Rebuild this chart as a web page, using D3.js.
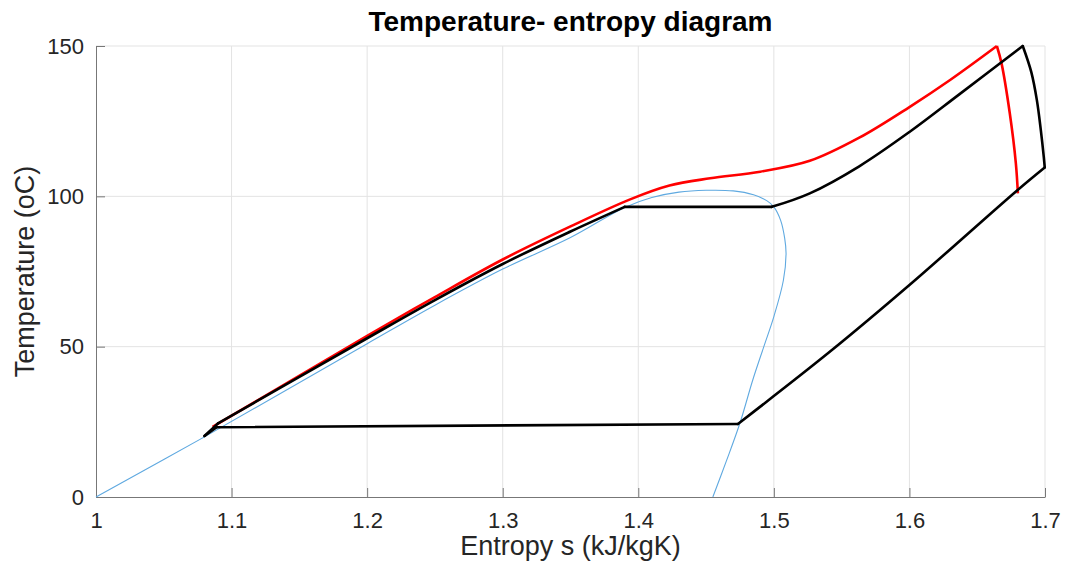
<!DOCTYPE html>
<html>
<head>
  <meta charset="utf-8">
  <title>Temperature- entropy diagram</title>
  <script src="https://d3js.org/d3.v7.min.js"></script>
  <style>
    body { margin: 0; background: #fff; }
    text { font-family: "Liberation Sans", Arial, Helvetica, sans-serif; fill: #262626; }
  </style>
</head>
<body>
<svg width="1071" height="577" id="chart"></svg>
<script>
// tick values
var xTicks = [1, 1.1, 1.2, 1.3, 1.4, 1.5, 1.6, 1.7];
var yTicks = [0, 50, 100, 150];

// saturation dome (thin blue)
var domeS = [1.000, 1.080, 1.200, 1.250, 1.300, 1.350, 1.390, 1.410, 1.430, 1.450, 1.470, 1.485, 1.495, 1.500, 1.505, 1.508, 1.509, 1.507, 1.500, 1.4926, 1.4845, 1.475, 1.465, 1.455];
var domeT = [0, 20, 51, 63.8, 75.8, 86.3, 96.3, 99.6, 101.4, 102, 101.8, 100.5, 98.5, 96.5, 92, 86, 81, 72, 60, 50, 39, 24.6, 12, 0];

// red cycle: heating + superheating, then expansion
var redHeatS = [1.086, 1.200, 1.250, 1.300, 1.350, 1.394, 1.423, 1.453, 1.490, 1.5265, 1.563, 1.600, 1.630, 1.6645];
var redHeatT = [23.3, 53.6, 66.5, 79, 90, 99, 103.6, 106, 108.2, 111.8, 119.5, 129.7, 138.7, 150];
var redExpS = [1.6645, 1.6679, 1.674, 1.6785, 1.680];
var redExpT = [150, 144.3, 127.7, 111, 101];

// black cycle, one array per process
var pumpS = [1.080, 1.090];
var pumpT = [20.3, 24.5];
var liquidS = [1.090, 1.200, 1.250, 1.300, 1.350, 1.390];
var liquidT = [24.5, 52.8, 65.5, 77.5, 88.3, 96.5];
var evapS = [1.390, 1.4985];
var evapT = [96.5, 96.5];
var superS = [1.4985, 1.5265, 1.563, 1.600, 1.637, 1.6836];
var superT = [96.5, 101, 110, 121.4, 134, 150];
var expandS = [1.6836, 1.6899, 1.6940, 1.6969, 1.6991, 1.6998];
var expandT = [150, 141.3, 132, 122.1, 113.1, 109.6];
var coolS = [1.6998, 1.679, 1.600, 1.541, 1.4735];
var coolT = [109.6, 101.8, 70.5, 48.2, 24.3];
var condS = [1.4735, 1.089];
var condT = [24.3, 23.2];
var dropS = [1.089, 1.080];
var dropT = [23.2, 20.3];

var svg = d3.select("#chart");
var plotL = 96, plotR = 1045, plotT = 46, plotB = 497;

var x = d3.scaleLinear().domain([1, 1.7]).range([plotL, plotR]);
var y = d3.scaleLinear().domain([0, 150]).range([plotB, plotT]);

// grid
svg.append("g").selectAll("line")
    .data(xTicks.slice(1))
  .enter().append("line")
    .attr("x1", function(d) { return x(d); })
    .attr("x2", function(d) { return x(d); })
    .attr("y1", plotT).attr("y2", plotB)
    .attr("stroke", "#e3e3e3").attr("stroke-width", 1);
svg.append("g").selectAll("line")
    .data(yTicks.slice(1))
  .enter().append("line")
    .attr("x1", plotL).attr("x2", plotR)
    .attr("y1", function(d) { return y(d); })
    .attr("y2", function(d) { return y(d); })
    .attr("stroke", "#e3e3e3").attr("stroke-width", 1);

// axes (ticks inward)
var xAxis = svg.append("g")
    .attr("transform", "translate(0," + plotB + ")")
    .call(d3.axisBottom(x).tickValues(xTicks).tickSizeInner(-9).tickSizeOuter(0)
      .tickFormat(function(d) { return d3.format("")(+d.toFixed(1)); }));
var yAxis = svg.append("g")
    .attr("transform", "translate(" + plotL + ",0)")
    .call(d3.axisLeft(y).tickValues(yTicks).tickSizeInner(-9).tickSizeOuter(0));

[xAxis, yAxis].forEach(function(a) {
  a.select(".domain").attr("stroke", "#777");
  a.selectAll(".tick line").attr("stroke", "#777");
  a.selectAll(".tick text")
    .style("font-size", "22px")
    .attr("fill", "#262626")
    .attr("font-family", null);
});
xAxis.selectAll(".tick text").attr("y", 15).attr("dy", "0.71em");
yAxis.selectAll(".tick text").attr("x", -12);

// lines
function pts(s, t) { return s.map(function(d, i) { return [d, t[i]]; }); }
function lineGen(curve) {
  return d3.line()
    .x(function(d) { return x(d[0]); })
    .y(function(d) { return y(d[1]); })
    .curve(curve);
}
var smooth = lineGen(d3.curveCatmullRom.alpha(0.5));
var straight = lineGen(d3.curveLinear);

svg.append("path")
    .attr("d", smooth(pts(domeS, domeT)))
    .attr("fill", "none").attr("stroke", "#5fa9e0").attr("stroke-width", 1.1);

[[redHeatS, redHeatT], [redExpS, redExpT]].forEach(function(p) {
  svg.append("path")
      .attr("d", smooth(pts(p[0], p[1])))
      .attr("fill", "none").attr("stroke", "#ff0000").attr("stroke-width", 2.6)
      .attr("stroke-linejoin", "round");
});

[[pumpS, pumpT, straight], [liquidS, liquidT, smooth], [evapS, evapT, straight],
 [superS, superT, smooth], [expandS, expandT, smooth], [coolS, coolT, smooth],
 [condS, condT, straight], [dropS, dropT, straight]].forEach(function(p) {
  svg.append("path")
      .attr("d", p[2](pts(p[0], p[1])))
      .attr("fill", "none").attr("stroke", "#000").attr("stroke-width", 2.6)
      .attr("stroke-linecap", "round").attr("stroke-linejoin", "round");
});

// labels
svg.append("text")
    .attr("x", (plotL + plotR) / 2).attr("y", 31)
    .attr("text-anchor", "middle")
    .style("font-size", "28px").style("font-weight", "bold")
    .style("fill", "#000")
    .text("Temperature- entropy diagram");

svg.append("text")
    .attr("x", (plotL + plotR) / 2).attr("y", 555)
    .attr("text-anchor", "middle")
    .style("font-size", "27px")
    .text("Entropy s (kJ/kgK)");

svg.append("text")
    .attr("transform", "translate(34," + (plotT + plotB) / 2 + ") rotate(-90)")
    .attr("text-anchor", "middle")
    .style("font-size", "27px")
    .text("Temperature (oC)");
</script>
</body>
</html>
